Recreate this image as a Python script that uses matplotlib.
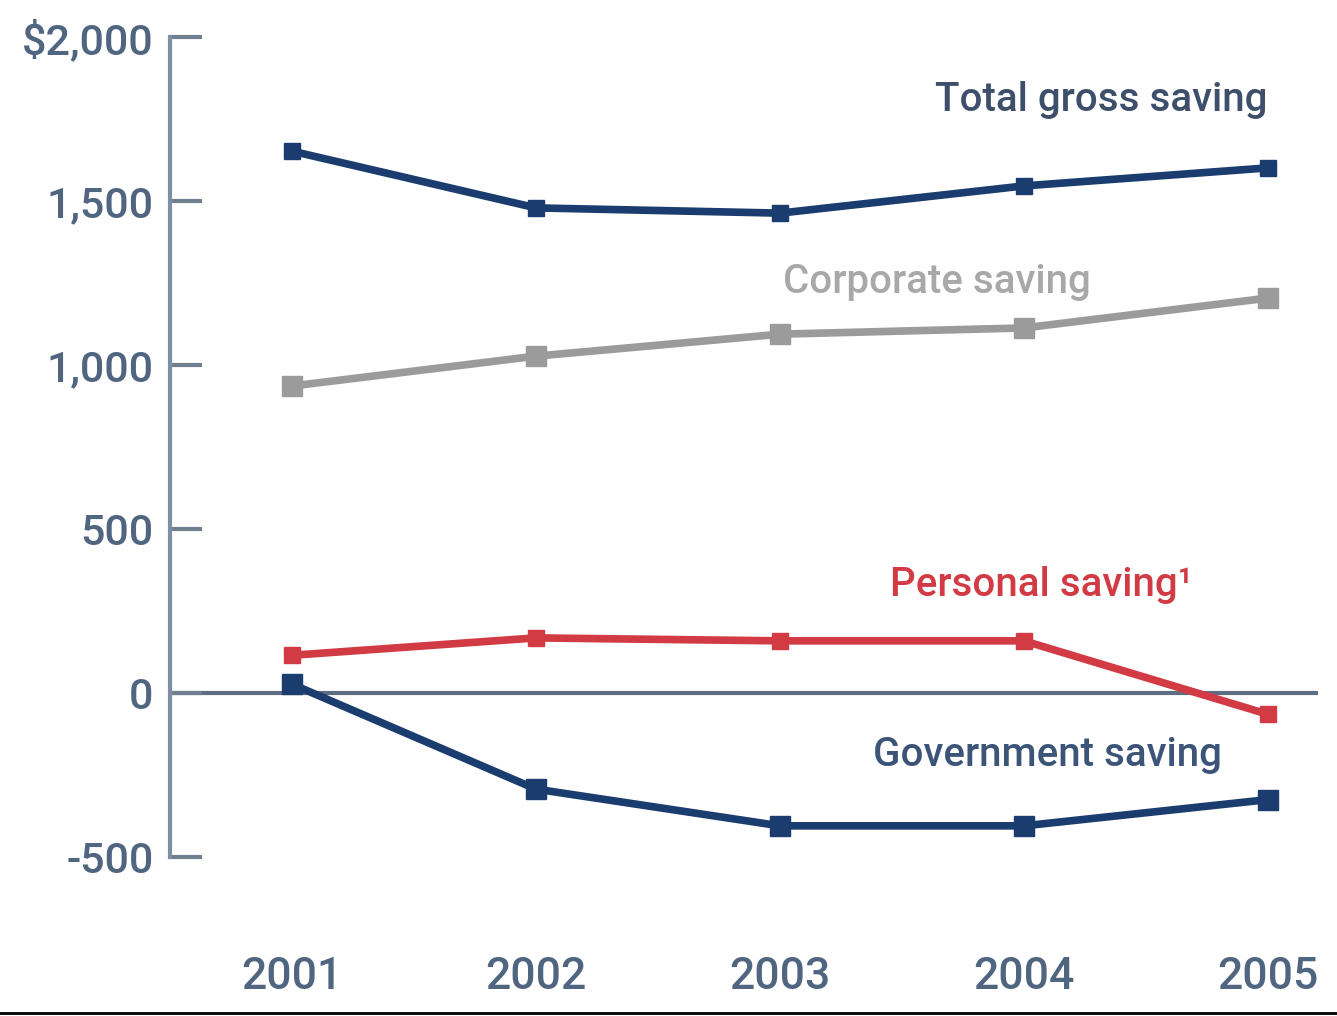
import matplotlib.pyplot as plt
from matplotlib.lines import Line2D

plt.rcParams['font.family'] = ['Roboto', 'DejaVu Sans']

# billions of dollars
years = [2001, 2002, 2003, 2004, 2005]
total_gross = [1652, 1479, 1463, 1546, 1601]
corporate = [936, 1027, 1094, 1113, 1204]
personal = [115, 168, 159, 159, -65]
government = [27, -293, -405, -405, -325]

yticks = [-500, 0, 500, 1000, 1500, 2000]
ytick_labels = ['-500', '0', '500', '1,000', '1,500', '$2,000']

navy = '#1b3c6e'
grey = '#9b9b9b'
red = '#d23a44'
label_col = '#4f6580'

fig = plt.figure(figsize=(13.37, 10.16), dpi=100)
ax = fig.add_axes([170 / 1337, (1016 - 857) / 1016, 1148 / 1337, 820 / 1016])

ax.axhline(0, color='#5d6e82', lw=3, zorder=1)

ax.plot(years, corporate, color=grey, lw=5.5, marker='s', ms=15, zorder=2)
ax.plot(years, total_gross, color=navy, lw=5.5, marker='s', ms=11, zorder=3)
ax.plot(years, government, color=navy, lw=5.5, marker='s', ms=14, zorder=3)
ax.plot(years, personal, color=red, lw=5.5, marker='s', ms=11, zorder=4)

ax.set_xlim(2000.5, 2005.205)
ax.set_ylim(-500, 2000)

# series labels next to their lines
lab = dict(fontsize=29, fontweight='medium', ha='left', va='baseline')
ax.text(2003.635, 1775, 'Total gross saving', color='#3d4f6a', **lab)
ax.text(2003.012, 1220, 'Corporate saving', color='#a8a8a8', **lab)
ax.text(2003.45, 296, 'Personal saving\u00b9', color=red, **lab)
ax.text(2003.38, -223, 'Government saving', color='#3b5478', **lab)

for s in ['top', 'right', 'bottom']:
    ax.spines[s].set_visible(False)
ax.spines['left'].set_color('#7d8fa3')
ax.spines['left'].set_linewidth(3)

ax.set_yticks(yticks)
ax.set_yticklabels(ytick_labels, fontweight='medium')
ax.tick_params(axis='y', direction='in', length=23, width=3, color='#6f7f90',
               labelsize=31, labelcolor=label_col, pad=12)
ax.set_xticks(years)
ax.set_xticklabels([str(y) for y in years], fontweight='medium')
ax.tick_params(axis='x', length=0, labelsize=32, labelcolor=label_col, pad=71)

fig.add_artist(Line2D([0, 1], [3 / 1016, 3 / 1016], color='black', lw=2,
                      transform=fig.transFigure))

fig.savefig('out.png', dpi=100, facecolor='white')
